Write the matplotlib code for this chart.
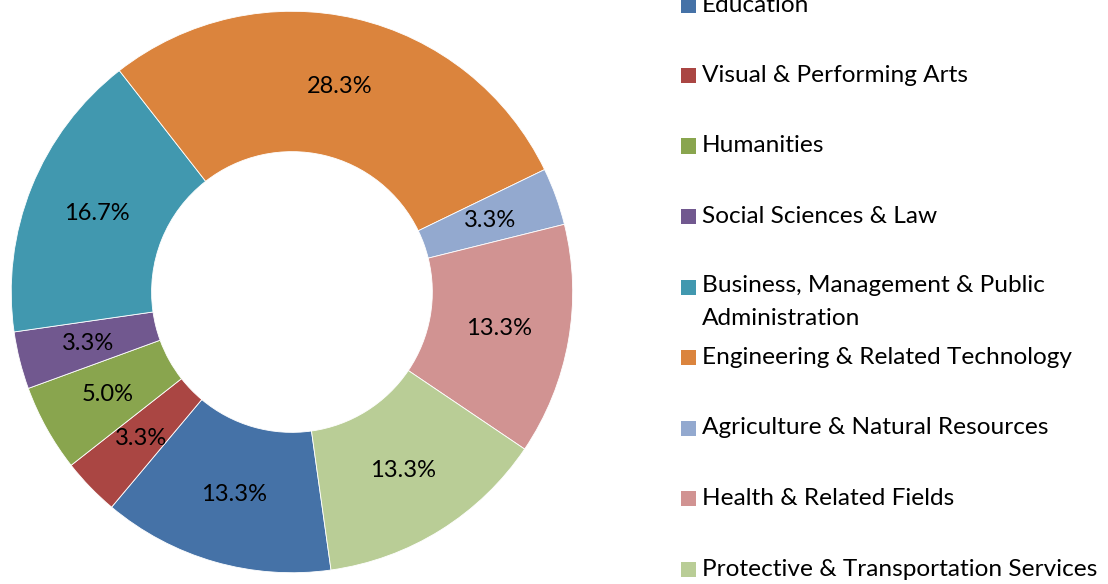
from matplotlib import pyplot as plt
from matplotlib.patches import Rectangle

categories = ['Education', 'Visual & Performing Arts', 'Humanities',
              'Social Sciences & Law',
              'Business, Management & Public\nAdministration',
              'Engineering & Related Technology',
              'Agriculture & Natural Resources', 'Health & Related Fields',
              'Protective & Transportation Services']
shares = [13.3, 3.3, 5.0, 3.3, 16.7, 28.3, 3.3, 13.3, 13.3]
colors = ['#4572A7', '#AA4643', '#89A54E', '#71588F', '#4198AF',
          '#DB843D', '#93A9CF', '#D19392', '#B9CD96']

plt.rcParams['font.family'] = ['Lato', 'DejaVu Sans']

fig = plt.figure(figsize=(11.08, 5.84), dpi=100)
ax = fig.add_axes([0.0, 0.0, 0.527, 1.0])

wedges, texts = ax.pie(shares, colors=colors, startangle=278,
                       counterclock=False, radius=1.0,
                       labels=['{:.1f}%'.format(v) for v in shares],
                       labeldistance=0.75,
                       wedgeprops=dict(width=0.5, edgecolor='white',
                                       linewidth=0.6))
for t in texts:
    t.set_ha('center')
    t.set_va('center')
    t.set_fontsize(17)
    t.set_color('black')
ax.set_aspect('equal')
ax.set_xlim(-1.04, 1.04)
ax.set_ylim(-1.02, 1.02)

# legend drawn by hand so the two-line entry keeps the same slot
top = 1 - 5 / 584.
step = 70.5 / 584.
for i, (name, c) in enumerate(zip(categories, colors)):
    y = top - i * step
    fig.patches.append(Rectangle((681 / 1108., y - 7.5 / 584.), 15 / 1108.,
                                 15 / 584., transform=fig.transFigure,
                                 facecolor=c, edgecolor='none'))
    if '\n' in name:
        fig.text(702 / 1108., y + 12 / 584., name, fontsize=17.6, va='top',
                 ha='left', linespacing=1.7, transform=fig.transFigure)
    else:
        fig.text(702 / 1108., y, name, fontsize=17.6, va='center',
                 ha='left', transform=fig.transFigure)

fig.savefig('out.png', dpi=100)
plt.close()
